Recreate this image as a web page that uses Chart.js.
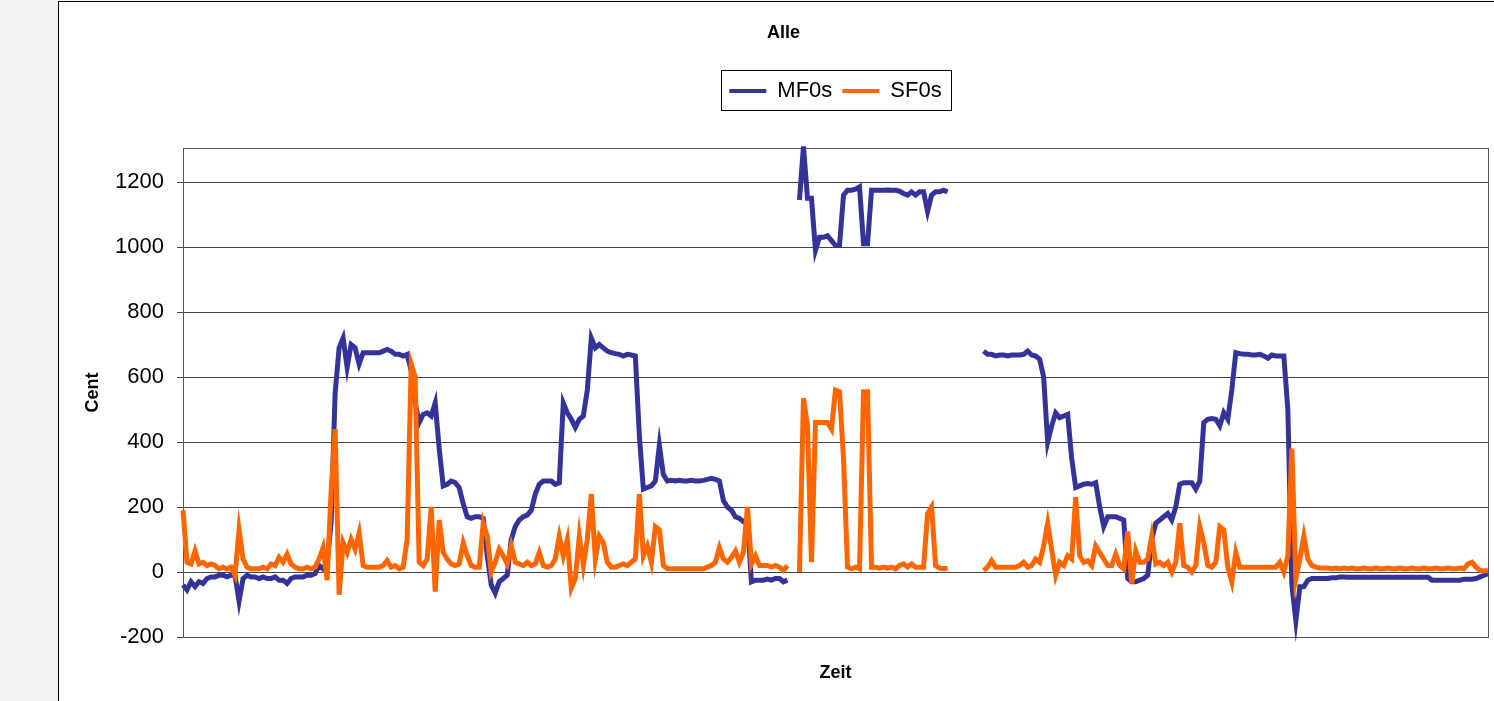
<!DOCTYPE html>
<html>
<head>
<meta charset="utf-8">
<title>Alle</title>
<script src="https://cdn.jsdelivr.net/npm/chart.js@4/dist/chart.umd.min.js"></script>
<style>
  html, body { margin: 0; padding: 0; width: 1494px; height: 701px; overflow: hidden; background: #f2f2f2; }
  #frame { position: absolute; left: 58px; top: 1px; width: 1449px; height: 730px; background: #fff; border: 1px solid #000; }
  #chart { position: absolute; left: 0; top: 0; }
</style>
</head>
<body>
<div id="frame"><canvas id="chart" width="1449" height="712"></canvas></div>
<script>
// Pitch track in cent, one sample per time step (null = no pitch detected)
const mf0s = [
  -40, -55, -30, -45, -30, -35, -20, -15, -15, -10,
  -10, -15, -10, -10, -90, -20, -10, -15, -15, -20,
  -15, -20, -20, -15, -25, -25, -35, -20, -15, -15,
  -15, -10, -10, -5, 20, 10, 30, 150, 550, 690,
  720, 630, 700, 690, 640, 675, 675, 675, 675, 675,
  680, 685, 680, 670, 670, 665, 670, 620, 520, 460,
  485, 490, 480, 520, 380, 265, 270, 280, 275, 260,
  210, 170, 165, 170, 170, 165, 50, -40, -65, -30,
  -20, -10, 100, 140, 160, 170, 175, 190, 240, 270,
  280, 280, 280, 270, 275, 520, 490, 470, 445, 470,
  480, 560, 720, 690, 700, 690, 680, 675, 672, 670,
  665, 670, 668, 665, 420, 255, 260, 265, 280, 390,
  300, 280, 282, 280, 282, 280, 280, 282, 280, 280,
  282, 285, 288, 285, 280, 220, 200, 190, 170, 165,
  155, 160, -30, -25, -25, -25, -22, -25, -20, -20,
  -30, -25, null, null, 1145, 1310, 1150, 1150, 990, 1030,
  1030, 1035, 1020, 1005, 1005, 1160, 1175, 1175, 1178, 1185,
  1010, 1010, 1175, 1175, 1175, 1175, 1176, 1175, 1175, 1172,
  1165, 1160, 1170, 1160, 1170, 1170, 1110, 1160, 1170, 1170,
  1175, 1170, null, null, null, null, null, null, null, null,
  680, 670, 670, 665, 668, 668, 665, 668, 668, 668,
  670, 680, 668, 665, 655, 600, 400, 450, 490, 475,
  480, 485, 350, 260, 265, 270, 272, 270, 275, 200,
  140, 170, 170, 170, 165, 160, -20, -30, -30, -25,
  -20, -10, 100, 150, 160, 170, 180, 160, 200, 270,
  275, 275, 275, 255, 280, 460, 470, 472, 470, 450,
  490, 470, 560, 675, 672, 670, 670, 668, 668, 670,
  665, 658, 668, 665, 665, 665, 500, -40, -150, -45,
  -45, -25, -20, -20, -20, -20, -20, -18, -18, -15,
  -15, -16, -16, -16, -16, -16, -16, -16, -16, -16,
  -16, -16, -16, -16, -16, -16, -16, -16, -16, -16,
  -16, -16, -25, -25, -25, -25, -25, -25, -25, -25,
  -22, -22, -22, -20, -15, -10, -5
];

const sf0s = [
  190, 30, 25, 65, 25, 30, 20, 25, 20, 10,
  15, 10, 15, -10, 130, 40, 15, 10, 10, 10,
  15, 10, 25, 20, 45, 30, 55, 25, 15, 10,
  10, 15, 10, 15, 40, 75, -25, 250, 440, -70,
  90, 60, 100, 70, 120, 20, 15, 15, 15, 15,
  20, 35, 15, 20, 10, 15, 100, 640, 600, 30,
  20, 40, 200, -60, 160, 60, 40, 25, 20, 25,
  90, 50, 20, 15, 15, 150, 110, 0, 30, 70,
  50, 25, 80, 30, 25, 20, 30, 20, 25, 60,
  20, 15, 20, 40, 110, 50, 100, -50, -20, 110,
  20, 100, 240, 40, 110, 90, 30, 15, 15, 20,
  25, 20, 30, 40, 240, 50, 80, 30, 140, 130,
  20, 10, 10, 10, 10, 10, 10, 10, 10, 10,
  10, 15, 20, 30, 75, 40, 30, 45, 65, 30,
  60, 200, 25, 50, 20, 20, 20, 15, 20, 15,
  5, 20, null, null, 0, 535, 450, 30, 460, 460,
  460, 460, 440, 560, 555, 350, 15, 10, 15, 10,
  555, 555, 15, 15, 12, 15, 12, 15, 10, 20,
  25, 15, 25, 15, 15, 15, 180, 200, 20, 12,
  10, 12, null, null, null, null, null, null, null, null,
  5, 15, 35, 15, 15, 15, 15, 15, 15, 20,
  30, 15, 20, 40, 30, 80, 150, 70, -10, 30,
  20, 50, 40, 230, 50, 30, 35, 20, 80, 60,
  40, 20, 20, 55, 20, 10, 125, -35, 65, 30,
  30, 40, 110, 25, 30, 20, 30, 0, 30, 150,
  20, 15, 0, 20, 140, 90, 20, 15, 30, 140,
  130, 15, -30, 60, 15, 15, 15, 15, 15, 15,
  15, 15, 15, 15, 30, 0, 50, 380, -20, 40,
  110, 40, 20, 15, 12, 12, 12, 10, 12, 10,
  12, 10, 12, 10, 10, 12, 10, 10, 12, 10,
  10, 12, 10, 10, 12, 10, 10, 12, 10, 10,
  12, 10, 10, 12, 10, 10, 12, 10, 10, 12,
  10, 25, 30, 15, 5, 3, 5
];

// Labelled gridlines of the cent axis
const yTicks = [-200, 0, 200, 400, 600, 800, 1000, 1200];

// Sample numbers along the time axis
const zeit = mf0s.map((_, i) => i + 1);

const FONT = 'Liberation Sans, Arial, sans-serif';
const GRID = '#444';

// Thin frame around the legend entries
const legendFrame = {
  id: 'legendFrame',
  afterDraw(chart) {
    const boxes = chart.legend && chart.legend.legendHitBoxes;
    if (!boxes || !boxes.length) return;
    const ctx = chart.ctx;
    const left = Math.round(Math.min(...boxes.map(b => b.left)) - 8) + 0.5;
    const right = Math.round(Math.max(...boxes.map(b => b.left + b.width)) + 9) + 0.5;
    const top = Math.round(boxes[0].top - 10) + 0.5;
    const bottom = Math.round(boxes[0].top + boxes[0].height + 8) + 0.5;
    ctx.save();
    ctx.strokeStyle = '#000';
    ctx.lineWidth = 1;
    ctx.strokeRect(left, top, right - left, bottom - top);
    ctx.restore();
  }
};

// Box around the plotting area
const plotFrame = {
  id: 'plotFrame',
  beforeDatasetsDraw(chart) {
    const { left, top, right, bottom } = chart.chartArea;
    const ctx = chart.ctx;
    ctx.save();
    ctx.strokeStyle = '#555';
    ctx.lineWidth = 1;
    ctx.strokeRect(Math.round(left) + 0.5, Math.round(top) + 0.5,
                   Math.round(right) - Math.round(left), Math.round(bottom) - Math.round(top));
    ctx.restore();
  }
};

new Chart(document.getElementById('chart'), {
  type: 'line',
  data: {
    labels: zeit,
    datasets: [
      {
        label: 'MF0s',
        data: mf0s,
        borderColor: '#333399',
        backgroundColor: '#333399',
        borderWidth: 5,
        pointRadius: 0,
        tension: 0,
        spanGaps: false,
        clip: 8,
        order: 1
      },
      {
        label: 'SF0s',
        data: sf0s,
        borderColor: '#ff6600',
        backgroundColor: '#ff6600',
        borderWidth: 5,
        pointRadius: 0,
        tension: 0,
        spanGaps: false,
        clip: 8,
        order: 0
      }
    ]
  },
  options: {
    responsive: false,
    animation: false,
    devicePixelRatio: 1,
    events: [],
    layout: { padding: 0 },
    plugins: {
      title: {
        display: true,
        text: 'Alle',
        color: '#000',
        font: { family: FONT, size: 18, weight: 'bold' },
        padding: { top: 20, bottom: 26.4 }
      },
      legend: {
        display: true,
        position: 'top',
        fullSize: false,
        labels: {
          color: '#000',
          font: { family: FONT, size: 22 },
          boxWidth: 37,
          boxHeight: 4,
          padding: 10,
          generateLabels(chart) {
            const items = Chart.defaults.plugins.legend.labels.generateLabels(chart);
            items.forEach(it => { it.lineWidth = 0; it.fillStyle = it.strokeStyle; });
            return items.sort((a, b) => a.datasetIndex - b.datasetIndex);
          }
        }
      },
      tooltip: { enabled: false }
    },
    scales: {
      x: {
        type: 'category',
        position: 'bottom',
        offset: false,
        grid: { display: false },
        border: { display: true, color: '#555', width: 1 },
        ticks: { display: false },
        title: {
          display: true,
          text: 'Zeit',
          color: '#000',
          font: { family: FONT, size: 18, weight: 'bold' },
          padding: { top: 0, bottom: 30 }
        },
        afterFit(scale) { scale.height = 77; }
      },
      y: {
        type: 'linear',
        position: 'left',
        min: -200,
        max: 1305,
        afterBuildTicks(scale) { scale.ticks = yTicks.map(v => ({ value: v })); },
        grid: { color: GRID, lineWidth: 1, drawTicks: true, tickLength: 6 },
        border: { display: true, color: GRID, width: 1 },
        ticks: {
          color: '#000',
          font: { family: FONT, size: 22 },
          padding: 13,
          callback: v => String(v)
        },
        title: {
          display: true,
          text: 'Cent',
          color: '#000',
          font: { family: FONT, size: 18, weight: 'bold' },
          padding: { top: 23, bottom: 0 }
        },
        afterFit(scale) { scale.width = 124; }
      },
      xTop: {
        type: 'linear',
        position: 'top',
        display: true,
        grid: { display: false },
        border: { display: false },
        ticks: { display: false },
        afterFit(scale) { scale.height = 36; }
      },
      yRight: {
        type: 'linear',
        position: 'right',
        display: true,
        grid: { display: false },
        border: { display: false },
        ticks: { display: false },
        afterFit(scale) { scale.width = 20; }
      }
    }
  },
  plugins: [plotFrame, legendFrame]
});
</script>
</body>
</html>
